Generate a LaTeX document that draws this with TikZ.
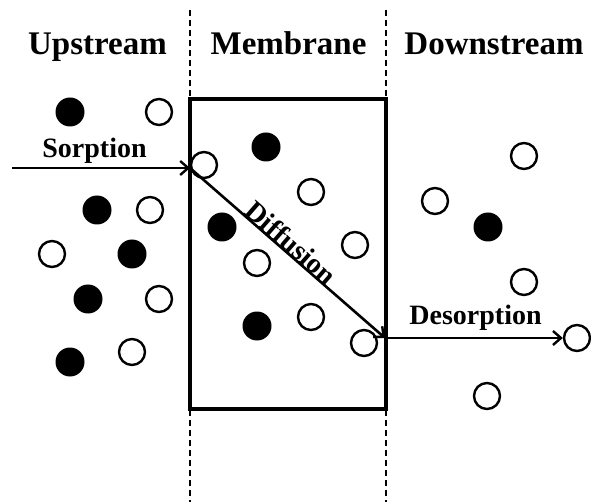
\documentclass[tikz,border=0pt]{standalone}
\usepackage{fontspec}
\setmainfont{Liberation Serif}
\usetikzlibrary{arrows.meta}
\tikzset{
  opencirc/.style={circle, draw, line width=2.4pt, minimum size=26pt, inner sep=0pt},
  fullcirc/.style={circle, fill, minimum size=29pt, inner sep=0pt},
  flowarrow/.style={line width=2.6pt, -{Straight Barb[length=8pt, width=14pt, line width=2.4pt]}},
  divider/.style={line width=1.3pt, dash pattern=on 6pt off 4pt},
  title/.style={font=\fontsize{33}{38}\selectfont\bfseries, anchor=base, inner sep=0pt},
  flowlabel/.style={font=\fontsize{28}{32}\selectfont\bfseries, inner sep=0pt},
}
\begin{document}
\begin{tikzpicture}[x=1pt, y=-1pt]
\useasboundingbox (0,0) rectangle (591,502);
% dividers
\coordinate (d1t) at (190,10); \coordinate (d1b) at (190,502);
\coordinate (d2t) at (386,10); \coordinate (d2b) at (386,502);
\draw[divider] (d1t) -- (d1b);
\draw[divider] (d2t) -- (d2b);
% titles
\node[title] (tup) at (97.5,55) {Upstream};
\node[title] (tmem) at (288.5,55) {Membrane};
\node[title] (tdown) at (494,55) {Downstream};
% membrane
\node[draw, line width=4pt, minimum width=196pt, minimum height=310pt, inner sep=0pt] (mem) at (288,254) {};
% upstream molecules
\node[fullcirc] (u1) at (70,112) {};
\node[opencirc] (u2) at (159,112) {};
\node[fullcirc] (u3) at (97,210) {};
\node[opencirc] (u4) at (150,210) {};
\node[opencirc] (u5) at (52,254) {};
\node[fullcirc] (u6) at (132,254) {};
\node[fullcirc] (u7) at (88,299) {};
\node[opencirc] (u8) at (159,299) {};
\node[fullcirc] (u9) at (70,362) {};
\node[opencirc] (u10) at (132,352) {};
% membrane molecules
\node[opencirc] (m1) at (204,165) {};
\node[fullcirc] (m2) at (266,147) {};
\node[opencirc] (m3) at (311,192) {};
\node[fullcirc] (m4) at (222,227) {};
\node[opencirc] (m5) at (355,245) {};
\node[opencirc] (m6) at (257,263) {};
\node[fullcirc] (m7) at (257,326) {};
\node[opencirc] (m8) at (311,317) {};
\node[opencirc] (m9) at (364,343) {};
% downstream molecules
\node[opencirc] (w1) at (524,156) {};
\node[opencirc] (w2) at (435,201) {};
\node[fullcirc] (w3) at (488,227) {};
\node[opencirc] (w4) at (524,282) {};
\node[opencirc] (w5) at (577,338) {};
\node[opencirc] (w6) at (487,396) {};
% flows
\coordinate (src) at (12,168);
\coordinate (entry) at (190,168);
\coordinate (exit) at (385,338);
\draw[flowarrow] (src) -- (entry);
\draw[flowarrow] (entry) -- node[flowlabel, sloped, anchor=south, pos=0.485, yshift=-1pt] (ldiff) {Diffusion} (exit);
\draw[flowarrow] (exit) -- (w5);
\node[flowlabel, anchor=base] (lsorp) at (94.5,158) {Sorption};
\node[flowlabel, anchor=base] (ldes) at (475.5,324) {Desorption};
\end{tikzpicture}
\end{document}
